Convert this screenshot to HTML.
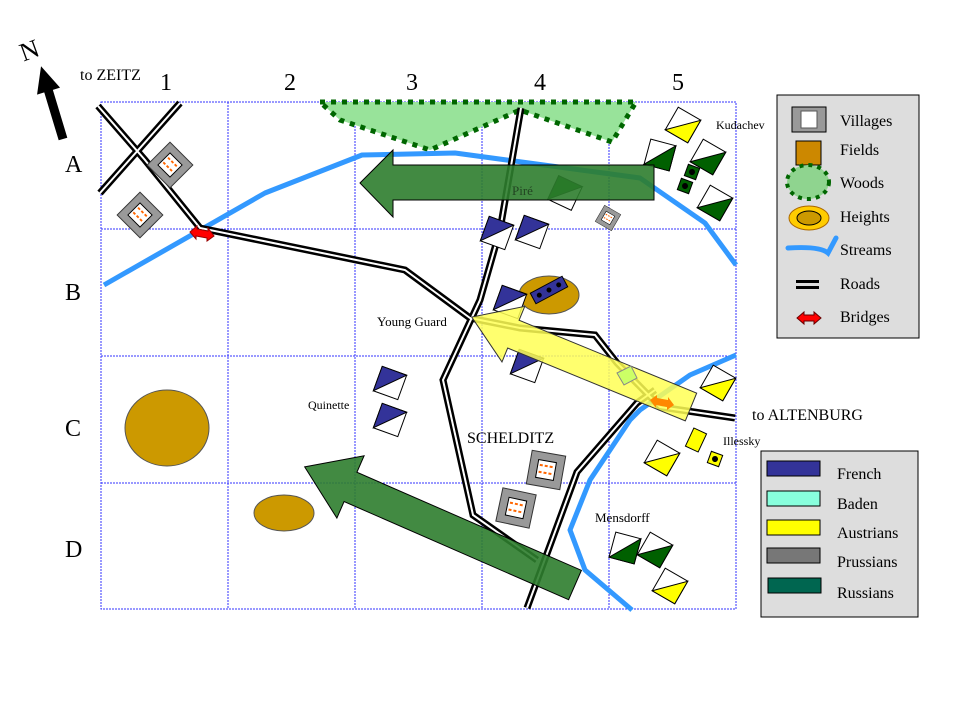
<!DOCTYPE html>
<html><head><meta charset="utf-8"><style>
html,body{margin:0;padding:0;background:#fff;width:960px;height:720px;overflow:hidden}
svg text{font-family:"Liberation Serif",serif}
</style></head><body>
<svg width="960" height="720" viewBox="0 0 960 720" xmlns="http://www.w3.org/2000/svg">
<defs>
<g id="vil"><rect x="-17" y="-17" width="34" height="34" fill="#999" stroke="#333"/><rect x="-9" y="-9" width="18" height="18" fill="#fff" stroke="#000"/>
<line x1="-7" y1="-4" x2="7" y2="-4" stroke="#f60" stroke-width="2" stroke-dasharray="3,2"/><line x1="-7" y1="3" x2="7" y2="3" stroke="#f60" stroke-width="2" stroke-dasharray="3,2"/></g>
</defs>
<!-- grid -->
<g stroke="#33f" stroke-width="1" stroke-dasharray="2,1" fill="none">
<rect x="101" y="102" width="635" height="507"/>
<line x1="228" y1="102" x2="228" y2="609"/><line x1="355" y1="102" x2="355" y2="609"/><line x1="482" y1="102" x2="482" y2="609"/><line x1="609" y1="102" x2="609" y2="609"/>
<line x1="101" y1="229" x2="736" y2="229"/><line x1="101" y1="356" x2="736" y2="356"/><line x1="101" y1="483" x2="736" y2="483"/>
</g>
<g font-size="24" fill="#000">
<text x="160" y="90">1</text><text x="284" y="90">2</text><text x="406" y="90">3</text><text x="534" y="90">4</text><text x="672" y="90">5</text>
<text x="65" y="172">A</text><text x="65" y="300">B</text><text x="65" y="436">C</text><text x="65" y="557">D</text>
</g>
<text x="80" y="80" font-size="16">to ZEITZ</text>
<text x="20" y="58" font-size="26" transform="rotate(-20 32 50)">N</text>
<polygon transform="translate(63,139) rotate(253.2)" points="0,-4.5 50,-4.5 50,-12 76,0 50,12 50,4.5 0,4.5" fill="#000"/>
<!-- woods -->
<polygon points="320,102 636,102 612,142 520,110 430,150 340,120" fill="#98e39a" stroke="#060" stroke-width="5" stroke-dasharray="5,6"/>
<!-- streams -->
<g fill="none" stroke="#3399ff" stroke-width="5" stroke-linejoin="round">
<polyline points="104,285 265,193 362,155 455,153 640,178 705,223 736,265"/>
<polyline points="736,355 690,375 640,410 630,420 590,480 570,530 585,570 632,610"/>
</g>
<!-- roads -->
<g fill="none">
<g stroke="#000" stroke-width="7">
<polyline points="98,106 145,160 200,228 405,270 470,318 520,328 595,335 617,363 660,407 735,418"/>
<polyline points="100,193 180,103"/>
<polyline points="521,108 500,230 480,300 443,380 473,515 537,560"/>
<polyline points="527,608 577,472 637,403 655,390"/>
</g>
<g stroke="#fff" stroke-width="2">
<polyline points="98,106 145,160 200,228 405,270 470,318 520,328 595,335 617,363 660,407 735,418"/>
<polyline points="100,193 180,103"/>
<polyline points="521,108 500,230 480,300 443,380 473,515 537,560"/>
<polyline points="527,608 577,472 637,403 655,390"/>
</g>
</g>
<polygon points="190,232 197,226 197,229 208,231 208,228 214,236 207,241 207,238 196,236 196,239" fill="#f00" stroke="#900"/>
<!-- heights -->
<ellipse cx="167" cy="428" rx="42" ry="38" fill="#cc9900" stroke="#555"/>
<ellipse cx="284" cy="513" rx="30" ry="18" fill="#cc9900" stroke="#555"/>
<ellipse cx="549" cy="295" rx="30" ry="19" fill="#cc9900" stroke="#555"/>
<g transform="translate(549,290) rotate(-28)"><rect x="-18" y="-6" width="36" height="12" fill="#333399" stroke="#000"/>
<circle cx="-11" cy="0" r="2.5"/><circle cx="0" cy="0" r="2.5"/><circle cx="11" cy="0" r="2.5"/></g>
<!-- villages -->
<use href="#vil" transform="translate(170,165) rotate(45) scale(0.95)"/>
<use href="#vil" transform="translate(140,215) rotate(45) scale(0.95)"/>
<use href="#vil" transform="translate(608,218) rotate(30) scale(0.55)"/>
<use href="#vil" transform="translate(546,470) rotate(10)"/>
<use href="#vil" transform="translate(516,508) rotate(12)"/>
<g stroke="#000" stroke-width="1">
<g transform="translate(497,233) rotate(20)"><rect x="-13" y="-13" width="26" height="26" fill="#fff"/><polygon points="-13,-13 13,-13 -13,13" fill="#333399"/></g>
<g transform="translate(532,232) rotate(20)"><rect x="-13" y="-13" width="26" height="26" fill="#fff"/><polygon points="-13,-13 13,-13 -13,13" fill="#333399"/></g>
<g transform="translate(510,302) rotate(20)"><rect x="-13" y="-13" width="26" height="26" fill="#fff"/><polygon points="-13,-13 13,-13 -13,13" fill="#333399"/></g>
<g transform="translate(527,366) rotate(20)"><rect x="-13" y="-13" width="26" height="26" fill="#fff"/><polygon points="-13,-13 13,-13 -13,13" fill="#333399"/></g>
<g transform="translate(390,383) rotate(20)"><rect x="-13" y="-13" width="26" height="26" fill="#fff"/><polygon points="-13,-13 13,-13 -13,13" fill="#333399"/></g>
<g transform="translate(390,420) rotate(20)"><rect x="-13" y="-13" width="26" height="26" fill="#fff"/><polygon points="-13,-13 13,-13 -13,13" fill="#333399"/></g>
<g transform="translate(660,155) rotate(15)"><rect x="-13" y="-13" width="26" height="26" fill="#fff"/><polygon points="-13,13 13,-13 13,13" fill="#006000"/></g>
<g transform="translate(708,157) rotate(30)"><rect x="-13" y="-13" width="26" height="26" fill="#fff"/><polygon points="-13,13 13,-13 13,13" fill="#006000"/></g>
<g transform="translate(715,203) rotate(30)"><rect x="-13" y="-13" width="26" height="26" fill="#fff"/><polygon points="-13,13 13,-13 13,13" fill="#006000"/></g>
<g transform="translate(565,193) rotate(25)"><rect x="-13" y="-13" width="26" height="26" fill="#fff"/><polygon points="-13,-13 13,-13 -13,13" fill="#006000"/></g>
<g transform="translate(692,172) rotate(20)"><rect x="-6" y="-6" width="12" height="12" fill="#006000"/><circle r="2.5" fill="#000"/></g>
<g transform="translate(685,186) rotate(20)"><rect x="-6" y="-6" width="12" height="12" fill="#006000"/><circle r="2.5" fill="#000"/></g>
<g transform="translate(625,548) rotate(15)"><rect x="-13" y="-13" width="26" height="26" fill="#fff"/><polygon points="-13,13 13,-13 13,13" fill="#006000"/></g>
<g transform="translate(655,550) rotate(30)"><rect x="-13" y="-13" width="26" height="26" fill="#fff"/><polygon points="-13,13 13,-13 13,13" fill="#006000"/></g>
<g transform="translate(683,125) rotate(30)"><rect x="-13" y="-13" width="26" height="26" fill="#fff"/><polygon points="-13,13 13,-13 13,13" fill="#ffff00"/></g>
<g transform="translate(718,383) rotate(30)"><rect x="-13" y="-13" width="26" height="26" fill="#fff"/><polygon points="-13,13 13,-13 13,13" fill="#ffff00"/></g>
<g transform="translate(662,458) rotate(30)"><rect x="-13" y="-13" width="26" height="26" fill="#fff"/><polygon points="-13,13 13,-13 13,13" fill="#ffff00"/></g>
<g transform="translate(670,586) rotate(30)"><rect x="-13" y="-13" width="26" height="26" fill="#fff"/><polygon points="-13,13 13,-13 13,13" fill="#ffff00"/></g>
<g transform="translate(696,440) rotate(25)"><rect x="-7" y="-10" width="14" height="20" fill="#ffff00"/></g>
<g transform="translate(715,459) rotate(20)"><rect x="-6" y="-6" width="12" height="12" fill="#ffff00"/><circle r="2.5" fill="#000"/></g>
</g>
<polygon points="360,183 393,150 393,165 654,165 654,200 393,200 393,217" fill="#2e7d2e" fill-opacity="0.9" stroke="#000"/>
<text x="512" y="195" font-size="13" fill="#224422">Piré</text>
<polygon transform="translate(575,585) rotate(203.6)" points="0,-16 245,-16 245,-34 295,0 245,34 245,16 0,16" fill="#2e7d2e" fill-opacity="0.9" stroke="#000"/>
<g transform="translate(691,407) rotate(202.3)">
<polygon points="0,-15 192,-15 192,-30 237,0 192,30 192,15 0,15" fill="#ffff55" fill-opacity="0.85" stroke="#333"/>
</g>
<polygon points="617,373 631,366 637,378 624,385" fill="#ccff66" stroke="#888"/>
<polygon points="650,400 657,395 657,398 668,400 668,397 674,405 667,410 667,407 656,405 656,408" fill="#ff8800"/>
<text x="377" y="326" font-size="13">Young Guard</text>
<text x="308" y="409" font-size="12">Quinette</text>
<text x="467" y="443" font-size="16">SCHELDITZ</text>
<text x="595" y="522" font-size="13">Mensdorff</text>
<text x="723" y="445" font-size="12">Illessky</text>
<text x="716" y="129" font-size="12">Kudachev</text>
<text x="752" y="420" font-size="16">to ALTENBURG</text>
<rect x="777" y="95" width="142" height="243" fill="#ddd" stroke="#000"/>
<g font-size="16">
<text x="840" y="126">Villages</text><text x="840" y="155">Fields</text><text x="840" y="188">Woods</text>
<text x="840" y="222">Heights</text><text x="840" y="255">Streams</text><text x="840" y="289">Roads</text><text x="840" y="322">Bridges</text>
</g>
<rect x="792" y="107" width="34" height="25" fill="#999" stroke="#000"/><rect x="801" y="111" width="16" height="17" fill="#fff" stroke="#555"/>
<rect x="796" y="141" width="25" height="24" fill="#cc8800" stroke="#000"/>
<ellipse cx="808" cy="182" rx="21" ry="17" fill="#8fd48f" stroke="#060" stroke-width="4" stroke-dasharray="4,5"/>
<ellipse cx="809" cy="218" rx="20" ry="12" fill="#ffcc00" stroke="#a60"/><ellipse cx="809" cy="218" rx="12" ry="7" fill="#cc9900" stroke="#000"/>
<path d="M788,248 Q820,246 828,253 L836,238" fill="none" stroke="#3399ff" stroke-width="5" stroke-linecap="round"/>
<rect x="796" y="280" width="23" height="3" fill="#000"/><rect x="796" y="286" width="23" height="3" fill="#000"/>
<polygon points="797,318 804,312 804,315 814,315 814,312 821,318 814,324 814,321 804,321 804,324" fill="#f00" stroke="#600"/>
<rect x="761" y="451" width="157" height="166" fill="#ddd" stroke="#000"/>
<g stroke="#000">
<rect x="767" y="461" width="53" height="15" fill="#333399"/>
<rect x="767" y="491" width="53" height="15" fill="#88ffdd"/>
<rect x="767" y="520" width="53" height="15" fill="#ffff00"/>
<rect x="767" y="548" width="53" height="15" fill="#777"/>
<rect x="768" y="578" width="53" height="15" fill="#006650"/>
</g>
<g font-size="16">
<text x="837" y="479">French</text><text x="837" y="509">Baden</text><text x="837" y="538">Austrians</text><text x="837" y="567">Prussians</text><text x="837" y="598">Russians</text>
</g>
</svg>
</body></html>
